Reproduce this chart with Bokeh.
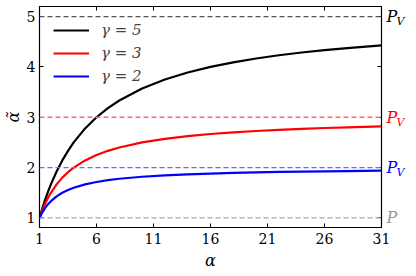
from bokeh.plotting import figure
from bokeh.models import (LinearAxis, FixedTicker, Span, Label, Legend, LegendItem, Range1d,
                          CustomJSTickFormatter)
from bokeh.embed import file_html
from bokeh.resources import INLINE

# data
alpha = [1, 1.25, 1.5, 1.75, 2, 2.5, 3, 3.5, 4, 5, 6, 7, 8, 10, 12, 14, 16, 18, 20, 22, 24, 26, 28, 31]
g5 = [1.000, 1.190, 1.364, 1.522, 1.667, 1.923, 2.143, 2.333, 2.500, 2.778, 3.000, 3.182, 3.333,
      3.571, 3.750, 3.889, 4.000, 4.091, 4.167, 4.231, 4.286, 4.333, 4.375, 4.429]
g3 = [1.000, 1.154, 1.286, 1.400, 1.500, 1.667, 1.800, 1.909, 2.000, 2.143, 2.250, 2.333, 2.400,
      2.500, 2.571, 2.625, 2.667, 2.700, 2.727, 2.750, 2.769, 2.786, 2.800, 2.818]
g2 = [1.000, 1.111, 1.200, 1.273, 1.333, 1.429, 1.500, 1.556, 1.600, 1.667, 1.714, 1.750, 1.778,
      1.818, 1.846, 1.867, 1.882, 1.895, 1.905, 1.913, 1.920, 1.926, 1.931, 1.938]
series_labels = ["γ = 5", "γ = 3", "γ = 2"]
series_colors = ["#000000", "#ff0000", "#0000ff"]

levels = [5, 3, 2, 1]
level_line_colors = ["#555555", "#ff6a6a", "#6a6aff", "#aaaaaa"]
level_text_colors = ["#000000", "#ff0000", "#0000ff", "#999999"]
level_main = ["P", "P", "P", "P"]
level_sub = ["V", "V", "V", ""]

x_ticks = [1, 6, 11, 16, 21, 26, 31]
y_ticks = [1, 2, 3, 4, 5]

FONT = "DejaVu Serif"

p = figure(frame_width=342, frame_height=221, output_backend="svg", toolbar_location=None,
           x_range=Range1d(1, 31), y_range=Range1d(0.81, 5.2),
           min_border_left=31, min_border_right=0, min_border_top=6, min_border_bottom=0)
p.grid.visible = False
p.outline_line_color = "#000000"
p.outline_line_width = 1.2
p.background_fill_color = "white"
p.border_fill_color = "white"

for ax in (p.xaxis[0], p.yaxis[0]):
    ax.major_tick_in = 4
    ax.major_tick_out = 0
    ax.minor_tick_line_color = None
    ax.axis_line_color = "#000000"
    ax.major_label_text_font = FONT
    ax.major_label_text_font_size = "14px"
    ax.major_label_text_color = "#000000"
    ax.axis_label_text_font = FONT
    ax.axis_label_text_font_style = "italic"
    ax.axis_label_text_font_size = "16px"
    ax.axis_label_text_color = "#000000"
    ax.major_tick_line_color = "#000000"

p.xaxis[0].ticker = FixedTicker(ticks=x_ticks)
p.yaxis[0].ticker = FixedTicker(ticks=y_ticks)
p.xaxis[0].axis_label = "α"
p.yaxis[0].axis_label = "α\u0303"
p.xaxis[0].major_label_standoff = 5
p.xaxis[0].axis_label_standoff = 4
p.yaxis[0].major_label_standoff = 4
p.yaxis[0].axis_label_standoff = 1

blank = CustomJSTickFormatter(code="return ''")
# mirrored ticks
top = LinearAxis(ticker=FixedTicker(ticks=x_ticks), formatter=blank, major_label_text_font_size="0px",
                 axis_line_color=None, major_tick_in=4, major_tick_out=0,
                 minor_tick_line_color=None, major_label_standoff=0)
right = LinearAxis(ticker=FixedTicker(ticks=y_ticks), formatter=blank, major_label_text_font_size="0px",
                   axis_line_color=None, major_tick_in=4, major_tick_out=0,
                   minor_tick_line_color=None, major_label_standoff=0)
p.add_layout(top, "above")
p.add_layout(right, "right")

for lv, lc in zip(levels, level_line_colors):
    p.add_layout(Span(location=lv, dimension="width", line_color=lc,
                      line_dash="5 3", line_width=1.3))

items = []
for ys, lab, col in zip([g5, g3, g2], series_labels, series_colors):
    r = p.line(alpha, ys, line_color=col, line_width=2.2)
    items.append(LegendItem(label=lab, renderers=[r]))

legend = Legend(items=items, location="top_left", border_line_color=None,
                background_fill_alpha=0, label_text_font=FONT, label_text_font_style="italic",
                label_text_font_size="15px", glyph_width=36, label_standoff=12,
                spacing=3, margin=14, padding=4)
p.add_layout(legend)

for lv, tc, m, s in zip(levels, level_text_colors, level_main, level_sub):
    p.add_layout(Label(x=31, y=lv, text=m, x_offset=5, y_offset=0, text_baseline="middle",
                       text_color=tc, text_font=FONT, text_font_style="italic",
                       text_font_size="16px"), "right")
    if s:
        p.add_layout(Label(x=31, y=lv, text=s, x_offset=15, y_offset=-5, text_baseline="middle",
                           text_color=tc, text_font=FONT, text_font_style="italic",
                           text_font_size="11px"), "right")

open("out.html", "w").write(file_html(p, INLINE))
